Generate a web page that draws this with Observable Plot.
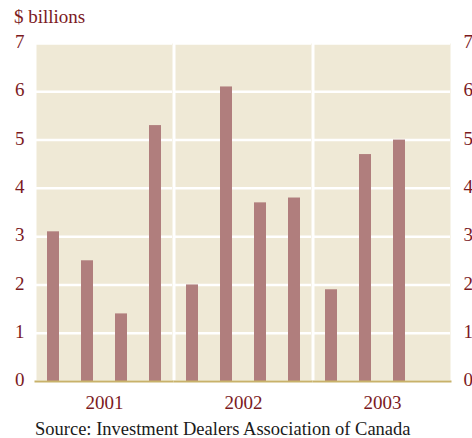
<!DOCTYPE html>
<html>
<head>
<meta charset="utf-8">
<script src="https://cdn.jsdelivr.net/npm/d3@7"></script>
<script src="https://cdn.jsdelivr.net/npm/@observablehq/plot@0.6"></script>
<style>
  html, body { margin: 0; padding: 0; background: #ffffff; overflow: hidden; }
  body { width: 472px; height: 438px; position: relative; font-family: "Liberation Serif", serif; }
  #title { position: absolute; left: 14px; top: 7px; font-size: 19px; line-height: 1; color: #7b1a1e; white-space: nowrap; }
  #chart { position: absolute; left: 0; top: 30px; }
  #source { position: absolute; left: 35px; top: 420px; font-size: 18.5px; line-height: 1; color: #1a1a1a; white-space: nowrap; }
</style>
</head>
<body>
<div id="title"></div>
<div id="chart"></div>
<div id="source"></div>
<script>
// ---- data ----
const unitLabel = "$ billions";
const sourceText = "Source: Investment Dealers Association of Canada";
const years = ["2001", "2002", "2003"];
const quarters = ["Q1", "Q2", "Q3", "Q4"];
const values2001 = [3.1, 2.5, 1.4, 5.3];
const values2002 = [2.0, 6.1, 3.7, 3.8];
const values2003 = [1.9, 4.7, 5.0];
const yTicks = [0, 1, 2, 3, 4, 5, 6, 7];

const seriesByYear = { "2001": values2001, "2002": values2002, "2003": values2003 };
const data = years.flatMap(year =>
  seriesByYear[year].map((value, i) => ({ year, quarter: quarters[i], value }))
);

document.getElementById("title").textContent = unitLabel;
document.getElementById("source").textContent = sourceText;

const chart = Plot.plot({
  width: 472,
  height: 386,
  marginTop: 13,
  marginBottom: 35,
  marginLeft: 35,
  marginRight: 20,
  style: {
    fontFamily: "'Liberation Serif', serif",
    fontSize: "19px",
    color: "#7b1a1e",
    background: "none",
    overflow: "visible"
  },
  fx: { domain: years, paddingInner: 0.0214, paddingOuter: 0, label: null },
  x: { domain: quarters, paddingInner: 0.657, paddingOuter: 0.286, axis: null },
  y: { domain: [0, 7] },
  marks: [
    Plot.frame({ fill: "#efe9d6", stroke: "none" }),
    Plot.gridY(yTicks, { stroke: "#ffffff", strokeOpacity: 1, strokeWidth: 2.5 }),
    Plot.barY(data, { fx: "year", x: "quarter", y: "value", fill: "#b07e7d" }),
    Plot.ruleY([0], { stroke: "#c8b26a", strokeWidth: 2, insetLeft: -1.5, insetRight: -1.5 }),
    Plot.axisY(yTicks, { anchor: "left", tickSize: 0, tickPadding: 12, dy: -1.5, label: null }),
    Plot.axisY(yTicks, { anchor: "right", tickSize: 0, tickPadding: 13, dy: -1.5, label: null }),
    Plot.axisFx({ anchor: "bottom", tickSize: 0, tickPadding: 13.5, label: null })
  ]
});
document.getElementById("chart").appendChild(chart);
</script>
</body>
</html>
